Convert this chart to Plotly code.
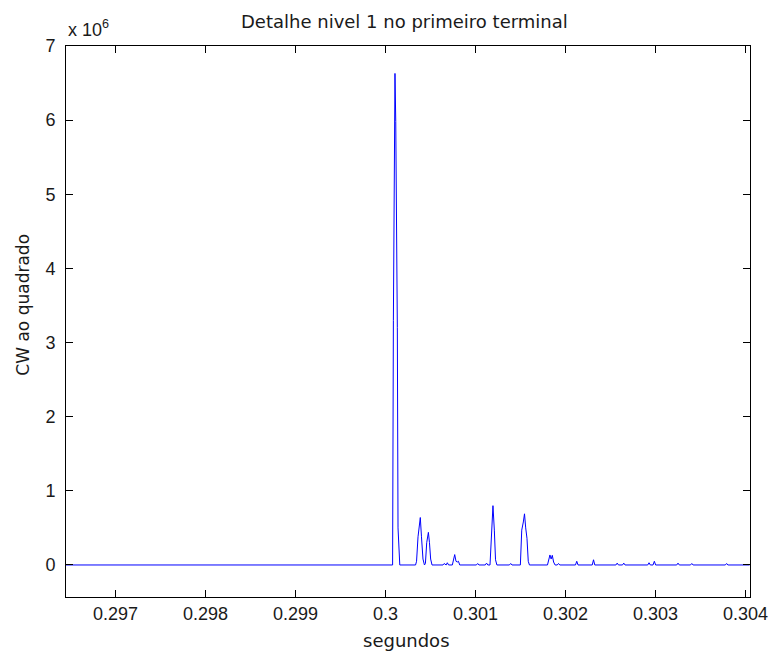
import plotly.graph_objects as go

# time offsets in microseconds relative to 0.3 s
t_us = [-3550,
        78.9, 87.6, 105.2, 113.9, 131.4, 139.1, 158.8,
        334.1, 345.1, 361.5, 386.7, 399.8, 416.3, 432.7,
        443.6, 457.9, 476.5, 488.5, 501.7, 517.0,
        638.6, 651.8, 666.0, 673.7, 686.8, 701.1,
        742.7, 758.0, 769.0, 783.2, 797.5, 810.6, 824.8,
        1010.0, 1024.2, 1038.4,
        1108.5, 1122.8, 1137.0,
        1161.1, 1177.6, 1194.0, 1209.3, 1222.5, 1237.8,
        1376.9, 1391.2, 1405.4,
        1498.5, 1513.8, 1531.4, 1544.5, 1557.7, 1571.9, 1586.1, 1599.3,
        1799.7, 1814.0, 1827.1, 1840.3, 1853.4, 1867.7, 1884.1,
        1908.2, 1922.4, 1936.7,
        2110.8, 2125.1, 2139.3,
        2297.1, 2311.3, 2325.5,
        2560.0, 2574.2, 2588.4,
        2633.3, 2647.6, 2661.8,
        2913.8, 2928.0, 2942.3,
        2972.9, 2987.2, 3001.4,
        3235.8, 3250.1, 3264.3,
        3389.2, 3403.4, 3417.6,
        3775.9, 3790.1, 3804.3,
        4045]

# squared coefficients, in units of 1e6
cw2 = [0,
       0, 3.30, 6.63, 5.98, 3.20, 0.50, 0,
       0, 0.05, 0.38, 0.64, 0.38, 0.08, 0,
       0.02, 0.30, 0.44, 0.30, 0.08, 0,
       0, 0.02, 0, 0, 0.03, 0,
       0, 0.09, 0.14, 0.05, 0.04, 0.05, 0,
       0, 0.02, 0,
       0, 0.025, 0,
       0, 0.47, 0.80, 0.47, 0.07, 0,
       0, 0.02, 0,
       0, 0.47, 0.58, 0.69, 0.50, 0.36, 0.05, 0,
       0, 0.09, 0.135, 0.08, 0.13, 0.04, 0,
       0, 0.02, 0,
       0, 0.05, 0,
       0, 0.07, 0,
       0, 0.025, 0,
       0, 0.025, 0,
       0, 0.03, 0,
       0, 0.05, 0,
       0, 0.025, 0,
       0, 0.02, 0,
       0, 0.02, 0,
       0]

x_ticks = [0.297, 0.298, 0.299, 0.300, 0.301, 0.302, 0.303, 0.304]
x_labels = ["0.297", "0.298", "0.299", "0.3", "0.301", "0.302", "0.303", "0.304"]
y_ticks = [0, 1, 2, 3, 4, 5, 6, 7]

t = [0.3 + v * 1e-6 for v in t_us]

TICKFONT = "Liberation Sans"
LABFONT = "DejaVu Sans"
TXT = "#1a1a1a"

# page offset of the figure (browser body margin)
OFF = 8
PL, PR, PT, PB = 66, 760, 46, 597  # plot area in page pixels
PW, PH = PR - PL, PB - PT


def px(xp):
    return (xp - PL) / PW


def py(yp):
    return (PB - yp) / PH


fig = go.Figure()
fig.add_trace(go.Scatter(x=t, y=cw2, mode="lines",
                         line=dict(color="#0000ff", width=1), hoverinfo="skip"))

axis_common = dict(showline=True, linecolor="black", linewidth=1, mirror="allticks",
                   ticks="inside", ticklen=7, tickcolor="black", showgrid=False,
                   zeroline=False, tickfont=dict(family=TICKFONT, size=18, color=TXT))

W, H = 780 - OFF, 655 - OFF
fig.update_layout(
    width=W, height=H,
    margin=dict(l=PL - OFF, r=W - (PR - OFF), t=PT - OFF, b=H - (PB - OFF), pad=0),
    paper_bgcolor="white", plot_bgcolor="white",
    showlegend=False,
    xaxis=dict(range=[0.29645, 0.30405], tickvals=x_ticks, ticktext=x_labels,
               ticklabelstandoff=0, **axis_common),
    yaxis=dict(range=[-0.432, 7.0], tickvals=y_ticks, ticklabelstandoff=6, **axis_common),
    annotations=[
        dict(text="Detalhe nivel 1 no primeiro terminal", xref="paper", yref="paper",
             x=px(409), y=py(21), xanchor="center", yanchor="middle",
             showarrow=False, font=dict(family=LABFONT, size=18, color=TXT)),
        dict(text="x 10<sup>6</sup>", xref="paper", yref="paper",
             x=0.0, y=py(42), xanchor="left", yanchor="bottom",
             showarrow=False, font=dict(family=TICKFONT, size=18, color=TXT)),
        dict(text="segundos", xref="paper", yref="paper",
             x=px(411.5), y=py(640), xanchor="center", yanchor="middle",
             showarrow=False, font=dict(family=LABFONT, size=18, color=TXT)),
        dict(text="CW ao quadrado", xref="paper", yref="paper",
             x=px(22), y=py(305), xanchor="center", yanchor="middle",
             textangle=-90, showarrow=False, font=dict(family=LABFONT, size=17, color=TXT)),
    ],
)

fig.write_html("out.html")
